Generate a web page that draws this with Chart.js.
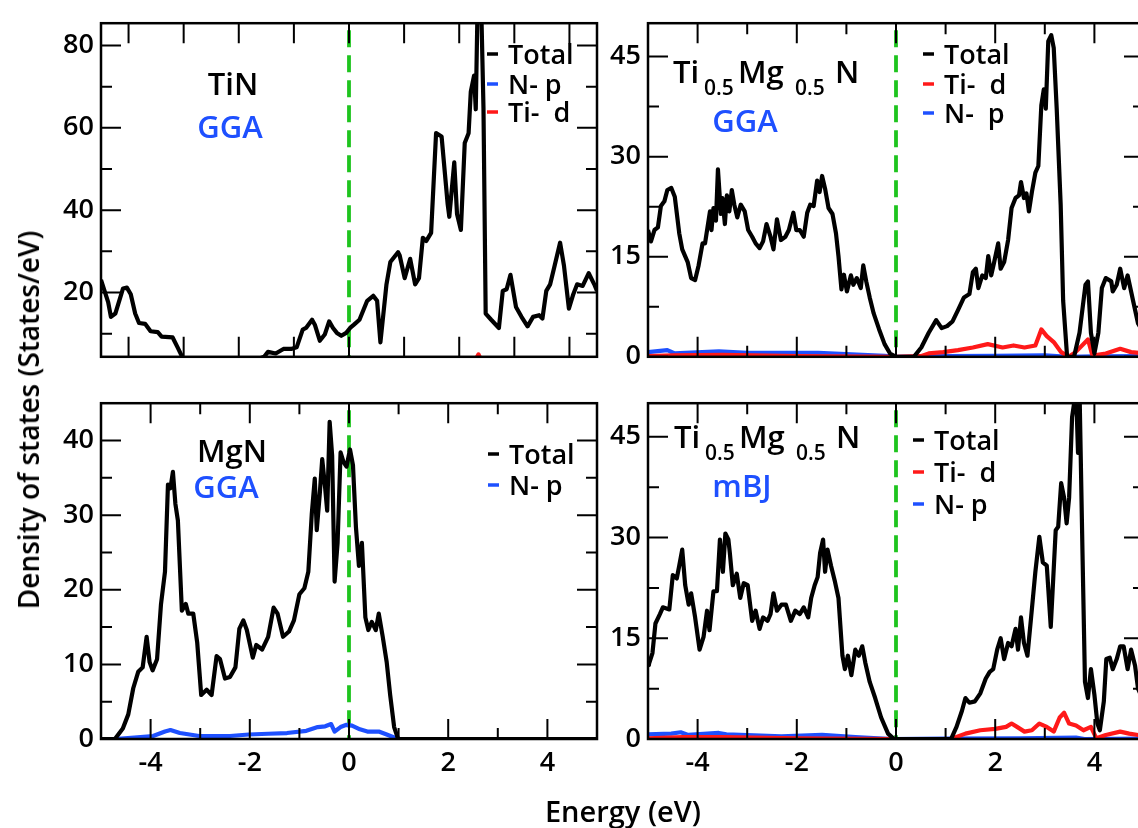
<!DOCTYPE html>
<html>
<head>
<meta charset="utf-8">
<script src="https://cdn.jsdelivr.net/npm/chart.js@4.4.1/dist/chart.umd.min.js"></script>
<style>
  html, body { margin: 0; padding: 0; background: #fff; overflow: hidden; }
  #fig { position: relative; width: 1138px; height: 828px; overflow: hidden;
         font-family: 'Open Sans', sans-serif; font-weight: 600; color: #000; }
  #fig canvas { position: absolute; }
  .ytitle { position: absolute; left: 28px; top: 420px; white-space: nowrap; font-size: 28px;
            line-height: 28px; transform: translate(-50%, -50%) rotate(-90deg); }
  .xtitle { position: absolute; left: 623px; top: 796px; white-space: nowrap; font-size: 29px;
            line-height: 29px; transform: translateX(-50%); }
</style>
</head>
<body>
<div id="fig">
  <canvas id="tl" width="620" height="380" style="left:0;top:0"></canvas>
  <canvas id="tr" width="580" height="380" style="left:588px;top:0"></canvas>
  <canvas id="bl" width="620" height="448" style="left:0;top:380px"></canvas>
  <canvas id="br" width="580" height="448" style="left:588px;top:380px"></canvas>
  <div class="ytitle">Density of states (States/eV)</div>
  <div class="xtitle">Energy (eV)</div>
</div>
<script>
// ---- data: [energy (eV), DOS (states/eV)] ----
const fermiLevel = 0;

// TiN (GGA)
const tinTotal = [[-4.5,23.1],[-4.37,17.7],[-4.32,14.1],[-4.24,14.9],[-4.10,21.0],[-4.03,21.2],[-3.96,19.6],[-3.88,14.9],[-3.81,12.6],[-3.70,12.4],[-3.60,10.6],[-3.47,10.4],[-3.40,9.3],[-3.20,9.1],[-3.11,6.7],[-3.02,4.2],[-2.8,3.2],[-2.4,2.6],[-2.0,2.8],[-1.7,3.6],[-1.54,4.4],[-1.47,5.6],[-1.33,5.2],[-1.19,6.3],[-1.05,6.3],[-0.95,6.7],[-0.84,11.0],[-0.78,11.4],[-0.67,13.4],[-0.62,12.2],[-0.53,8.3],[-0.44,9.8],[-0.36,13.0],[-0.29,11.4],[-0.22,10.2],[-0.14,9.5],[-0.05,10.2],[0.02,11.4],[0.09,12.2],[0.19,13.4],[0.33,18.0],[0.44,19.2],[0.51,18.0],[0.57,7.9],[0.68,22.0],[0.75,27.4],[0.89,29.8],[0.92,29.0],[1.01,23.5],[1.11,28.2],[1.20,22.0],[1.27,23.5],[1.34,33.3],[1.40,32.5],[1.49,34.5],[1.58,58.7],[1.68,57.9],[1.79,41.5],[1.82,38.4],[1.91,51.6],[1.96,39.1],[2.03,35.2],[2.10,56.3],[2.17,58.7],[2.21,68.8],[2.27,72.7],[2.30,64.5],[2.34,95],[2.39,95],[2.44,64.9],[2.48,14.9],[2.58,13.4],[2.72,11.4],[2.79,20.4],[2.86,20.8],[2.93,24.3],[3.03,16.5],[3.13,14.1],[3.24,11.8],[3.34,14.1],[3.45,14.5],[3.51,13.7],[3.58,20.4],[3.65,22.0],[3.72,25.9],[3.83,32.1],[3.90,26.6],[3.99,16.1],[4.07,19.6],[4.14,22.0],[4.24,21.6],[4.35,24.7],[4.45,22.0],[4.5,20.4]];
const tinNp = [[-4.5,2.0],[-3.8,2.5],[-3.0,1.0],[-1.0,0.5],[0,0.8],[1.0,1.2],[2.0,1.5],[2.4,2.0],[3.0,1.0],[4.5,1.0]];
const tinTid = [[-4.5,0.3],[-2.0,0.4],[0,1.2],[1.0,2.0],[1.5,2.5],[2.0,3.0],[2.3,3.8],[2.35,5.0],[2.4,3.5],[3.0,1.5],[4.5,1.2]];

// Ti0.5Mg0.5N (GGA)
const gaTotal = [[-5.0,19.0],[-4.94,17.3],[-4.87,19.0],[-4.80,19.4],[-4.74,22.6],[-4.67,23.3],[-4.61,25.0],[-4.53,25.3],[-4.46,24.0],[-4.37,18.5],[-4.31,16.1],[-4.20,14.2],[-4.13,11.8],[-4.05,11.5],[-3.98,13.7],[-3.90,17.0],[-3.85,17.0],[-3.79,19.9],[-3.75,21.8],[-3.72,19.0],[-3.68,22.3],[-3.63,20.4],[-3.59,28.1],[-3.53,21.4],[-3.50,23.8],[-3.45,19.9],[-3.41,24.2],[-3.36,21.8],[-3.31,25.0],[-3.26,22.8],[-3.20,20.9],[-3.13,22.8],[-3.05,21.8],[-2.98,19.0],[-2.90,18.0],[-2.83,17.0],[-2.75,16.3],[-2.68,17.3],[-2.61,19.9],[-2.53,18.0],[-2.47,16.1],[-2.40,20.6],[-2.32,17.5],[-2.23,18.0],[-2.16,19.0],[-2.07,21.6],[-2.01,19.0],[-1.94,19.0],[-1.86,18.0],[-1.79,21.6],[-1.73,22.8],[-1.66,22.6],[-1.59,26.4],[-1.54,24.7],[-1.49,27.1],[-1.43,25.2],[-1.36,22.3],[-1.28,21.4],[-1.21,18.5],[-1.16,15.1],[-1.10,10.1],[-1.05,12.3],[-0.99,9.8],[-0.91,12.2],[-0.86,10.8],[-0.79,11.8],[-0.71,10.3],[-0.66,13.7],[-0.60,11.3],[-0.53,8.9],[-0.45,6.5],[-0.34,4.1],[-0.23,1.9],[-0.12,0.5],[0,0],[0.36,0],[0.51,1.4],[0.66,3.6],[0.81,5.5],[0.92,4.3],[1.03,4.6],[1.14,5.3],[1.25,7.0],[1.37,8.9],[1.48,9.4],[1.55,12.7],[1.61,13.2],[1.66,10.3],[1.74,12.2],[1.81,11.8],[1.86,15.1],[1.92,12.2],[1.98,14.2],[2.06,17.0],[2.11,13.2],[2.18,14.2],[2.26,17.5],[2.33,22.3],[2.41,23.8],[2.48,24.2],[2.52,26.2],[2.58,23.8],[2.63,24.5],[2.68,21.8],[2.74,24.7],[2.81,27.6],[2.87,28.6],[2.93,37.7],[2.98,40.1],[3.02,37.2],[3.07,47.3],[3.13,48.2],[3.18,46.3],[3.24,37.2],[3.32,22.8],[3.37,8.4],[3.45,0],[3.59,0],[3.70,3.6],[3.82,10.8],[3.87,11.3],[3.93,3.6],[4.00,0.5],[4.08,3.6],[4.15,10.3],[4.23,11.8],[4.34,11.3],[4.37,9.8],[4.45,10.8],[4.52,13.2],[4.60,10.3],[4.67,12.2],[4.78,8.4],[4.88,5.0],[5.0,3.5]];
const gaTid = [[-5.0,0.1],[-4.5,0.2],[-3.5,0.3],[-2.0,0.1],[0,0],[0.5,0.1],[0.66,0.5],[0.95,0.7],[1.25,1.0],[1.55,1.4],[1.85,1.9],[2.15,1.4],[2.37,1.7],[2.59,1.4],[2.81,1.7],[2.93,4.1],[3.04,3.1],[3.18,2.2],[3.33,0.7],[3.48,0],[3.62,0.7],[3.87,2.6],[3.96,0.2],[4.23,0.5],[4.52,1.2],[4.74,0.7],[5.0,0.5]];
const gaNp = [[-5.0,0.7],[-4.61,1.0],[-4.46,0.5],[-3.57,0.8],[-3.0,0.6],[-1.57,0.6],[-0.23,0.15],[0,0],[1.0,0.1],[2.0,0.15],[3.0,0.2],[3.48,0],[4.0,0.05],[5.0,0.1]];

// MgN (GGA)
const mgnTotal = [[-5.0,0],[-4.72,0],[-4.56,1.4],[-4.45,3.3],[-4.35,6.8],[-4.25,9.0],[-4.16,9.6],[-4.08,13.7],[-4.02,10.3],[-3.96,9.2],[-3.87,10.7],[-3.79,18.1],[-3.71,22.4],[-3.65,34.1],[-3.60,33.6],[-3.55,35.8],[-3.50,31.5],[-3.45,29.3],[-3.37,17.2],[-3.29,18.1],[-3.24,16.8],[-3.14,16.8],[-3.06,12.9],[-2.98,5.9],[-2.87,6.6],[-2.77,5.9],[-2.67,11.1],[-2.60,10.7],[-2.50,8.1],[-2.40,8.3],[-2.29,9.6],[-2.21,14.8],[-2.13,15.9],[-2.06,14.6],[-1.94,10.9],[-1.87,12.6],[-1.75,12.0],[-1.63,13.7],[-1.52,17.6],[-1.44,16.8],[-1.33,13.7],[-1.21,14.4],[-1.11,15.9],[-1.00,19.4],[-0.90,20.2],[-0.82,22.4],[-0.75,30.2],[-0.69,34.9],[-0.65,28.0],[-0.59,32.8],[-0.54,37.5],[-0.48,33.6],[-0.44,30.6],[-0.39,42.5],[-0.34,38.0],[-0.29,21.1],[-0.23,26.3],[-0.17,38.4],[-0.11,37.1],[-0.05,36.5],[0.02,38.8],[0.08,36.7],[0.14,28.4],[0.20,23.2],[0.26,26.3],[0.33,16.3],[0.39,14.6],[0.46,15.7],[0.54,14.6],[0.60,16.8],[0.68,13.7],[0.76,10.3],[0.83,5.9],[0.91,1.6],[0.99,0],[5.0,0]];
const mgnNp = [[-5.0,0],[-4.72,0],[-4.33,0.2],[-3.95,0.4],[-3.71,1.0],[-3.60,1.2],[-3.41,0.8],[-3.02,0.4],[-2.40,0.4],[-2.02,0.6],[-1.63,0.7],[-1.25,0.8],[-0.86,1.1],[-0.63,1.6],[-0.48,1.7],[-0.36,2.0],[-0.29,1.0],[-0.17,1.6],[-0.05,1.9],[0.06,1.8],[0.22,1.3],[0.37,1.0],[0.60,1.0],[0.76,0.6],[0.91,0.2],[0.99,0],[5.0,0]];

// Ti0.5Mg0.5N (mBJ)
const mbjTotal = [[-5.0,11.0],[-4.98,11.2],[-4.91,12.8],[-4.85,17.2],[-4.76,18.6],[-4.70,19.6],[-4.57,19.3],[-4.50,24.4],[-4.42,23.9],[-4.37,25.8],[-4.31,28.2],[-4.25,22.9],[-4.18,20.0],[-4.13,21.7],[-4.05,18.1],[-3.96,13.3],[-3.88,15.2],[-3.81,19.1],[-3.76,16.2],[-3.68,22.0],[-3.61,22.0],[-3.55,29.7],[-3.49,24.9],[-3.44,30.6],[-3.38,29.7],[-3.35,27.7],[-3.29,22.9],[-3.21,24.6],[-3.14,21.0],[-3.07,23.2],[-2.99,22.9],[-2.90,17.6],[-2.83,19.1],[-2.75,16.4],[-2.68,18.1],[-2.59,17.6],[-2.53,18.6],[-2.47,21.7],[-2.40,19.1],[-2.31,20.0],[-2.22,20.0],[-2.12,17.6],[-2.03,19.1],[-1.94,18.6],[-1.86,19.6],[-1.77,18.1],[-1.71,21.0],[-1.64,22.9],[-1.58,24.1],[-1.53,27.7],[-1.47,29.7],[-1.43,24.9],[-1.38,28.2],[-1.31,25.8],[-1.23,23.4],[-1.16,21.0],[-1.08,12.4],[-1.03,10.4],[-0.97,12.4],[-0.90,9.5],[-0.82,13.3],[-0.75,12.4],[-0.68,13.8],[-0.62,11.4],[-0.53,8.5],[-0.42,6.1],[-0.30,3.2],[-0.16,0.8],[-0.04,0],[1.11,0],[1.22,1.8],[1.33,4.2],[1.40,6.1],[1.48,5.4],[1.59,5.6],[1.70,6.8],[1.81,9.0],[1.89,10.0],[1.96,10.4],[2.04,13.3],[2.11,15.0],[2.18,11.9],[2.26,14.3],[2.33,13.8],[2.41,16.4],[2.46,13.3],[2.52,18.1],[2.58,14.3],[2.65,12.4],[2.73,18.6],[2.81,24.9],[2.89,30.1],[2.96,26.3],[3.04,25.8],[3.12,16.7],[3.17,23.9],[3.22,31.1],[3.27,31.6],[3.33,38.1],[3.39,35.9],[3.44,32.1],[3.49,35.9],[3.55,47.9],[3.63,52],[3.67,42.6],[3.70,52],[3.76,27.7],[3.81,8.5],[3.87,6.1],[3.93,10.4],[4.00,6.6],[4.06,2.3],[4.11,1.3],[4.19,5.6],[4.24,11.9],[4.31,12.1],[4.37,10.4],[4.45,11.9],[4.52,13.8],[4.59,13.8],[4.67,10.4],[4.74,13.3],[4.82,10.9],[4.88,7.5],[5.0,5.5]];
const mbjTid = [[-5.0,0.1],[-4.3,0.3],[-3.5,0.3],[-2.0,0.1],[0,0],[1.11,0],[1.40,0.8],[1.70,1.3],[2.00,1.5],[2.22,1.8],[2.33,2.3],[2.44,1.8],[2.59,1.1],[2.74,1.3],[2.89,2.3],[3.04,1.8],[3.18,1.1],[3.30,3.2],[3.39,3.9],[3.49,2.3],[3.63,2.0],[3.78,1.3],[3.93,1.8],[4.04,0.1],[4.23,0.6],[4.52,1.1],[4.70,0.8],[4.88,0.6],[5.0,0.5]];
const mbjNp = [[-5.0,0.7],[-4.53,0.8],[-4.34,1.0],[-4.19,0.6],[-3.57,0.9],[-3.42,0.7],[-2.31,0.4],[-1.49,0.6],[-0.82,0.3],[-0.08,0],[1.0,0.05],[2.5,0.1],[3.63,0.2],[3.8,0],[5.0,0.05]];

// axis ranges and ticks
const tinRangeE = [-4.5, 4.5], tinRangeD = [4.4, 85.4];
const tinTicksE = [-4, -3, -2, -1, 0, 1, 2, 3, 4], tinMinorE = [];
const tinTicksD = [20, 40, 60, 80], tinMinorD = [10, 30, 50, 70];
const wideRangeE = [-5, 5];
const wideTicksE = [-4, -2, 0, 2, 4], wideMinorE = [-3, -1, 1, 3];
const tmnRangeD = [0, 50];
const tmnTicksD = [0, 15, 30, 45], tmnMinorD = [7.5, 22.5, 37.5];
const mgnRangeD = [0, 45];
const mgnTicksD = [0, 10, 20, 30, 40], mgnMinorD = [5, 15, 25, 35];

const BLUE = 'rgb(30,80,255)', RED = 'rgb(255,25,25)', GREEN = 'rgb(30,196,30)', BLACK = '#000';
const FONT = "'Open Sans', 'DejaVu Sans', sans-serif";

const panelDecor = {
  id: 'panelDecor',
  beforeDatasetsDraw(chart, args, o) {
    const { ctx, chartArea: a, scales: { x } } = chart;
    const px = x.getPixelForValue(fermiLevel);
    ctx.save();
    ctx.strokeStyle = GREEN;
    ctx.lineWidth = 3.8;
    ctx.setLineDash([17, 8]);
    ctx.beginPath();
    ctx.moveTo(px, a.top + 7);
    ctx.lineTo(px, a.bottom);
    ctx.stroke();
    ctx.restore();
  },
  afterDraw(chart, args, o) {
    const { ctx, chartArea: a, scales: { x, y } } = chart;
    ctx.save();
    ctx.strokeStyle = BLACK;
    ctx.lineWidth = 2;
    const tick = (vals, len, horiz) => vals.forEach(v => {
      ctx.beginPath();
      if (horiz) {
        const p = x.getPixelForValue(v);
        ctx.moveTo(p, a.bottom); ctx.lineTo(p, a.bottom - len);
        ctx.moveTo(p, a.top); ctx.lineTo(p, a.top + len);
      } else {
        const p = y.getPixelForValue(v);
        ctx.moveTo(a.left, p); ctx.lineTo(a.left + len, p);
        ctx.moveTo(a.right, p); ctx.lineTo(a.right - len, p);
      }
      ctx.stroke();
    });
    tick(o.xMajor, 20, true);
    tick(o.xMinor, 11, true);
    tick(o.yMajor, 20, false);
    tick(o.yMinor, 11, false);
    ctx.lineWidth = 2.5;
    ctx.strokeRect(a.left, a.top, a.right - a.left, a.bottom - a.top);

    const [ox, oy] = o.offset;
    o.texts.forEach(t => {
      ctx.font = `600 ${t.size || 28}px ${FONT}`;
      ctx.fillStyle = t.color || BLACK;
      ctx.textAlign = t.align || 'left';
      ctx.textBaseline = 'alphabetic';
      ctx.fillText(t.text, t.x - ox, t.y - oy);
    });
    o.legend.forEach(l => {
      ctx.strokeStyle = l.color;
      ctx.lineWidth = 3.5;
      ctx.beginPath();
      ctx.moveTo(l.x - ox, l.y - 10 - oy);
      ctx.lineTo(l.x + 11 - ox, l.y - 10 - oy);
      ctx.stroke();
      ctx.font = `600 27px ${FONT}`;
      ctx.fillStyle = BLACK;
      ctx.textAlign = 'left';
      ctx.fillText(l.text, l.x + 21 - ox, l.y - oy);
    });
    ctx.restore();
  }
};

const line = (data, color) => ({
  data: data.map(([e, d]) => ({ x: e, y: d })),
  borderColor: color, borderWidth: 4.2, pointRadius: 0, tension: 0,
  borderJoinStyle: 'round', clip: 0
});

function makePanel(id, p) {
  new Chart(document.getElementById(id), {
    type: 'line',
    data: { datasets: p.series },
    plugins: [panelDecor],
    options: {
      responsive: false, animation: false, events: [],
      layout: { padding: p.padding },
      plugins: { legend: { display: false }, tooltip: { enabled: false }, panelDecor: p.decor },
      scales: {
        x: {
          type: 'linear', min: p.rangeE[0], max: p.rangeE[1],
          display: p.showE,
          grid: { display: false, drawTicks: false }, border: { display: false },
          afterBuildTicks: s => { s.ticks = p.decor.xMajor.map(v => ({ value: v })); },
          afterFit: s => { s.height = p.showE ? 45 : 0; },
          ticks: { padding: 8, color: BLACK, font: { family: FONT, size: 27, weight: '600' },
                   maxRotation: 0, autoSkip: false, callback: v => String(v) }
        },
        y: {
          type: 'linear', min: p.rangeD[0], max: p.rangeD[1],
          grid: { display: false, drawTicks: false }, border: { display: false },
          afterBuildTicks: s => { s.ticks = p.decor.yMajor.map(v => ({ value: v })); },
          afterFit: s => { s.width = p.yWidth; },
          ticks: { padding: 7, color: BLACK, font: { family: FONT, size: 27, weight: '600' },
                   callback: v => String(v) }
        }
      }
    }
  });
}

const formula = (left, base) => [
  { text: 'Ti', x: left, y: base, size: 31 },
  { text: '0.5', x: left + 31, y: base + 12, size: 21 },
  { text: 'Mg', x: left + 65, y: base, size: 31 },
  { text: '0.5', x: left + 122, y: base + 12, size: 21 },
  { text: 'N', x: left + 162, y: base, size: 31 }
];

makePanel('tl', {
  rangeE: tinRangeE, rangeD: tinRangeD, showE: false, yWidth: 101,
  padding: { left: 0, top: 13, right: 23, bottom: 22 },
  series: [line(tinTotal, BLACK), line(tinTid, RED), line(tinNp, BLUE)],
  decor: {
    offset: [0, 0], xMajor: tinTicksE, xMinor: tinMinorE, yMajor: tinTicksD, yMinor: tinMinorD,
    texts: [
      { text: 'TiN', x: 233, y: 95, size: 31, align: 'center' },
      { text: 'GGA', x: 230, y: 138, size: 31, align: 'center', color: BLUE }
    ],
    legend: [
      { text: 'Total', x: 487, y: 64, color: BLACK },
      { text: 'N- p', x: 487, y: 94, color: BLUE },
      { text: 'Ti-  d', x: 487, y: 122, color: RED }
    ]
  }
});

makePanel('tr', {
  rangeE: wideRangeE, rangeD: tmnRangeD, showE: false, yWidth: 60,
  padding: { left: 0, top: 13, right: 24, bottom: 22 },
  series: [line(gaTotal, BLACK), line(gaTid, RED), line(gaNp, BLUE)],
  decor: {
    offset: [588, 0], xMajor: wideTicksE, xMinor: wideMinorE, yMajor: tmnTicksD, yMinor: tmnMinorD,
    texts: formula(673, 83).concat([
      { text: 'GGA', x: 745, y: 132, size: 31, align: 'center', color: BLUE }
    ]),
    legend: [
      { text: 'Total', x: 923, y: 64, color: BLACK },
      { text: 'Ti-  d', x: 923, y: 94, color: RED },
      { text: 'N-  p', x: 923, y: 123, color: BLUE }
    ]
  }
});

makePanel('bl', {
  rangeE: wideRangeE, rangeD: mgnRangeD, showE: true, yWidth: 101,
  padding: { left: 0, top: 13, right: 23, bottom: 44 },
  series: [line(mgnTotal, BLACK), line(mgnNp, BLUE)],
  decor: {
    offset: [0, 380], xMajor: wideTicksE, xMinor: wideMinorE, yMajor: mgnTicksD, yMinor: mgnMinorD,
    texts: [
      { text: 'MgN', x: 232, y: 462, size: 31, align: 'center' },
      { text: 'GGA', x: 226, y: 498, size: 31, align: 'center', color: BLUE }
    ],
    legend: [
      { text: 'Total', x: 488, y: 464, color: BLACK },
      { text: 'N- p', x: 488, y: 495, color: BLUE }
    ]
  }
});

makePanel('br', {
  rangeE: wideRangeE, rangeD: tmnRangeD, showE: true, yWidth: 60,
  padding: { left: 0, top: 13, right: 24, bottom: 44 },
  series: [line(mbjTotal, BLACK), line(mbjTid, RED), line(mbjNp, BLUE)],
  decor: {
    offset: [588, 380], xMajor: wideTicksE, xMinor: wideMinorE, yMajor: tmnTicksD, yMinor: tmnMinorD,
    texts: formula(674, 448).concat([
      { text: 'mBJ', x: 742, y: 497, size: 31, align: 'center', color: BLUE }
    ]),
    legend: [
      { text: 'Total', x: 913, y: 450, color: BLACK },
      { text: 'Ti-  d', x: 913, y: 482, color: RED },
      { text: 'N- p', x: 913, y: 514, color: BLUE }
    ]
  }
});
</script>
</body>
</html>
